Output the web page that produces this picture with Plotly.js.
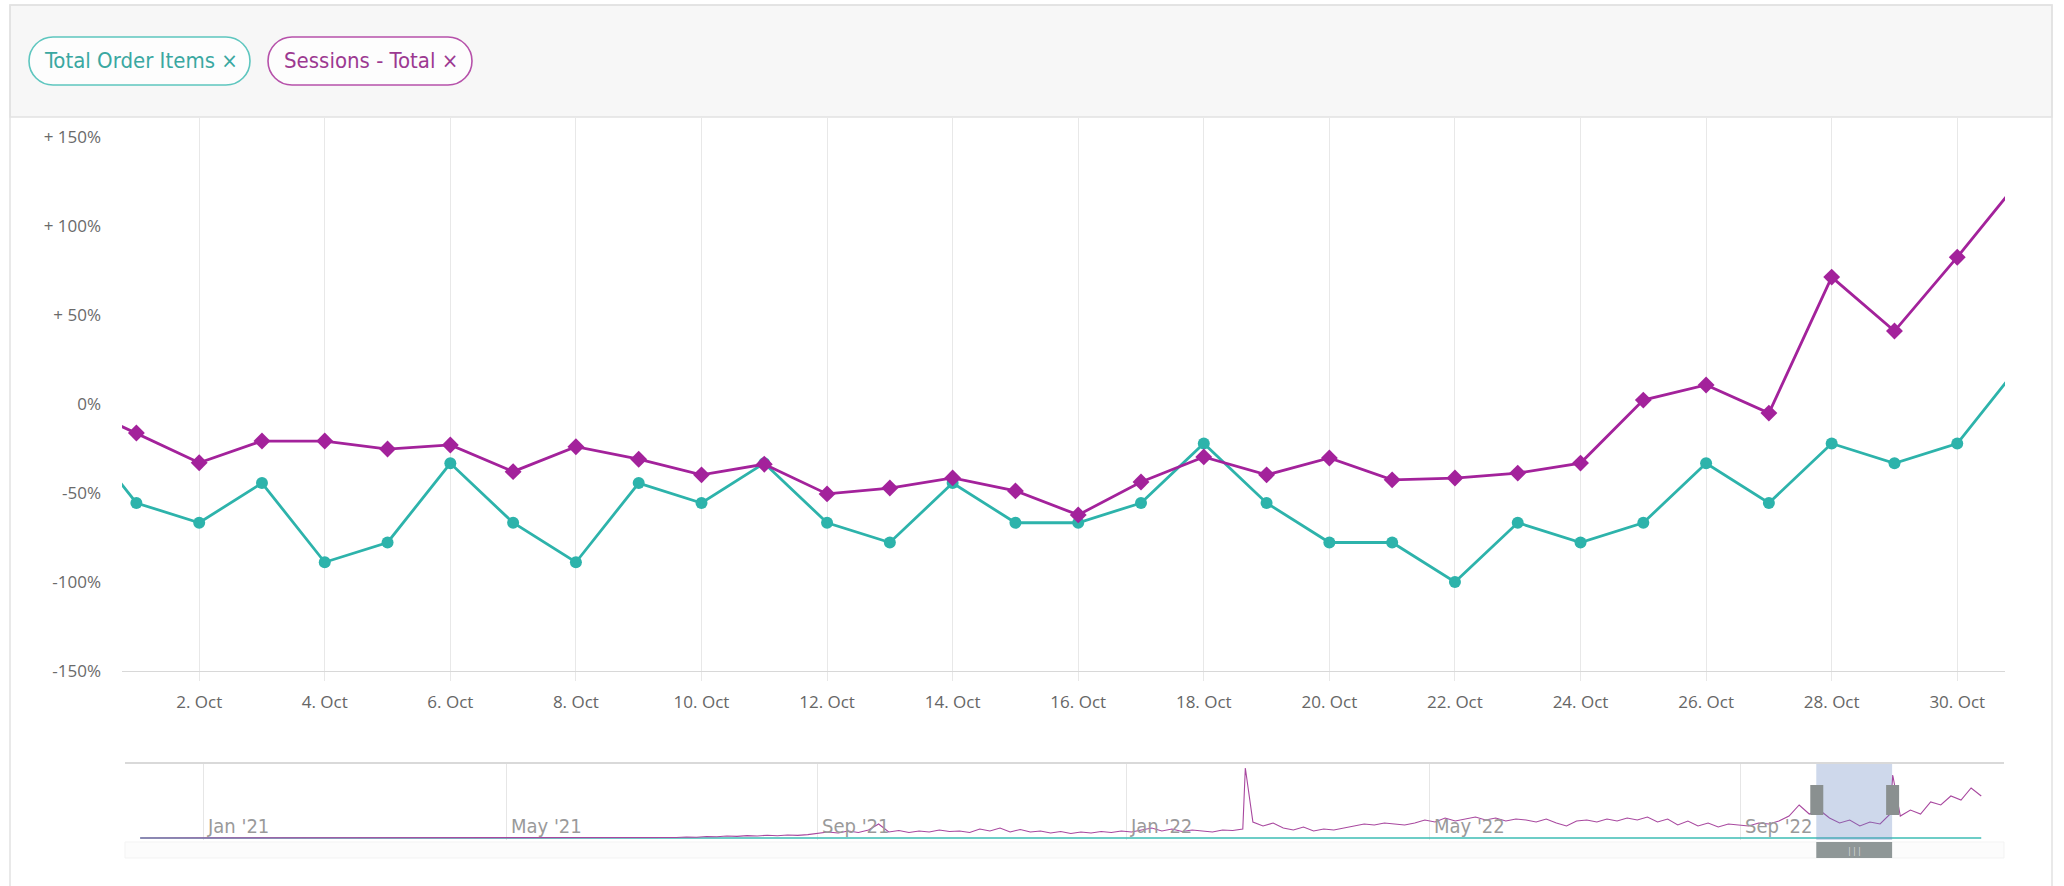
<!DOCTYPE html>
<html>
<head>
<meta charset="utf-8">
<script src="https://cdn.plot.ly/plotly-3.0.1.min.js"></script>
<style>
  html, body { margin: 0; padding: 0; background: #ffffff; overflow: hidden; }
  #chart { width: 2064px; height: 886px; }
</style>
</head>
<body>
<div id="chart"></div>
<script>
// ---------------- data ----------------
const dates = ['2022-09-30','2022-10-01','2022-10-02','2022-10-03','2022-10-04','2022-10-05','2022-10-06','2022-10-07',
  '2022-10-08','2022-10-09','2022-10-10','2022-10-11','2022-10-12','2022-10-13','2022-10-14','2022-10-15',
  '2022-10-16','2022-10-17','2022-10-18','2022-10-19','2022-10-20','2022-10-21','2022-10-22','2022-10-23',
  '2022-10-24','2022-10-25','2022-10-26','2022-10-27','2022-10-28','2022-10-29','2022-10-30','2022-10-31'];

const totalOrderItems = [-11.1, -55.6, -66.7, -44.4, -88.9, -77.8, -33.3, -66.7,
  -88.9, -44.4, -55.6, -33.3, -66.7, -77.8, -44.4, -66.7,
  -66.7, -55.6, -22.2, -55.6, -77.8, -77.8, -100, -66.7,
  -77.8, -66.7, -33.3, -55.6, -22.2, -33.3, -22.2, 22.2];

const sessionsTotal = [0, -16.3, -33, -20.8, -20.8, -25.3, -23, -38,
  -24, -31, -39.8, -33.8, -50.5, -47.2, -41.5, -48.8,
  -62.3, -43.8, -29.7, -39.8, -30.3, -42.6, -41.6, -38.8,
  -33.2, 2.2, 10.7, -5.1, 71.3, 41, 82.5, 126];

const seriesNames = ['Total Order Items', 'Sessions - Total'];

const yTickVals = [150, 100, 50, 0, -50, -100, -150];
const yTickText = ['+ 150%', '+ 100%', '+ 50%', '0%', '-50%', '-100%', '-150%'];

// navigator (overview) series: one value every 4 days from 2020-12-07
const navStart = '2020-12-07';
const navStepDays = 4;
const navSessions = [
  0,0,0,0,0,0,0,0,0,0,
  0,0,0,0,0,0,0,0,0,0,
  0,0,0,0,0,0,0,0,0,0,
  0,0,0,0,0,0,0,0,0,0,
  0,0,0,0,0,0,0,0,0,0,
  0,0,0,
  0.5,1,0.8,1.5,1.2,2,1.6,2.4,2,2.8,2.2,3,2.6,3.4,
  4.5,6,5,7,5.5,8,14,6,7.5,5.5,7,6,8,6.5,7,5.5,9,7,10,6,8.5,6,7,5,6.5,4.5,6,5,6.5,5.5,7,
  6,8,10,7,9,6.5,8,7,6,8,7.5,9,
  16,
  12,15,10,8,11,7,9,8,10,12,14,13,15,14,13,
  15,18,16,20,17,19,21,18,20,17,19,18,16,19,15,12,17,18,16,19,17,20,18,21,16,19,13,17,
  12,15,11,14,13,12,15,14,17,22,
  33,24,28,20,
  15,18,12,16,14,24,
  22,28,24,36,33,42,38,50,42
];
const navSpikeDates = ['2022-02-17', '2022-10-31'];
const navSpikeValues = [70, 63];
const navOrderDates = ['2020-12-07', '2022-12-05'];
const navOrderValues = [0, 0];

const navTickDates = ['2021-01-01', '2021-05-01', '2021-09-01', '2022-01-01', '2022-05-01', '2022-09-01'];
const navTickLabels = ["Jan '21", "May '21", "Sep '21", "Jan '22", "May '22", "Sep '22"];

// ---------------- build ----------------
const W = 2064, H = 886;
const X = p => p / W;
const Y = p => 1 - p / H;

const TEAL = '#2db3ab';
const PURPLE = '#a3229b';

const mainRange = ['2022-09-30 18:30', '2022-10-30 18:15'];

// navigator series (regular grid + spikes, sorted by date)
const startMs = Date.UTC(2020, 11, 7);
let navPts = navSessions.map((v, i) => [startMs + i * navStepDays * 86400000, v]);
navSpikeDates.forEach((d, i) => {
  const p = d.split('-').map(Number);
  navPts.push([Date.UTC(p[0], p[1] - 1, p[2]), navSpikeValues[i]]);
});
navPts.sort((a, b) => a[0] - b[0]);
const navX = navPts.map(p => new Date(p[0]).toISOString().slice(0, 10));
const navY = navPts.map(p => p[1]);

const traces = [
  { x: dates, y: totalOrderItems, name: seriesNames[0], type: 'scatter', mode: 'lines+markers',
    line: { color: TEAL, width: 2.8 }, marker: { symbol: 'circle', size: 12, color: TEAL },
    xaxis: 'x', yaxis: 'y' },
  { x: dates, y: sessionsTotal, name: seriesNames[1], type: 'scatter', mode: 'lines+markers',
    line: { color: PURPLE, width: 2.8 }, marker: { symbol: 'diamond', size: 13, color: PURPLE },
    xaxis: 'x', yaxis: 'y' },
  { x: navOrderDates, y: navOrderValues, type: 'scatter', mode: 'lines',
    line: { color: '#3cbcb4', width: 1.6 }, xaxis: 'x2', yaxis: 'y2' },
  { x: navX, y: navY, type: 'scatter', mode: 'lines',
    line: { color: '#a8489f', width: 1.1 }, xaxis: 'x2', yaxis: 'y2' }
];

function pill(x1, y1, x2, y2, color) {
  const r = (y2 - y1) / 2, k = 0.5523 * r, cy = y1 + r;
  const P = (x, y) => X(x).toFixed(6) + ',' + Y(y).toFixed(6);
  return {
    type: 'path', xref: 'paper', yref: 'paper', layer: 'above',
    path: `M${P(x1 + r, y1)} L${P(x2 - r, y1)} C${P(x2 - r + k, y1)} ${P(x2, cy - k)} ${P(x2, cy)} ` +
          `C${P(x2, cy + k)} ${P(x2 - r + k, y2)} ${P(x2 - r, y2)} L${P(x1 + r, y2)} ` +
          `C${P(x1 + r - k, y2)} ${P(x1, cy + k)} ${P(x1, cy)} C${P(x1, cy - k)} ${P(x1 + r - k, y1)} ${P(x1 + r, y1)} Z`,
    fillcolor: '#fdfdfd', line: { color: color, width: 1.6 }
  };
}

const shapes = [
  // card + header band
  { type: 'rect', xref: 'paper', yref: 'paper', layer: 'below', x0: X(10), x1: X(2052), y0: Y(5), y1: Y(117),
    fillcolor: '#f7f7f7', line: { color: '#e2e2e2', width: 1.5 } },
  { type: 'rect', xref: 'paper', yref: 'paper', layer: 'below', x0: X(10), x1: X(2052), y0: Y(5), y1: Y(890),
    fillcolor: 'rgba(0,0,0,0)', line: { color: '#e2e2e2', width: 1.5 } },
  pill(29, 37, 250, 85, '#5ec6bf'),
  pill(268, 37, 472, 85, '#b651aa'),
  // navigator outline
  { type: 'line', xref: 'paper', yref: 'paper', x0: X(125), x1: X(2004), y0: Y(763), y1: Y(763),
    line: { color: '#d9d9d9', width: 2 } },
  // scrollbar track
  { type: 'rect', xref: 'paper', yref: 'paper', x0: X(125), x1: X(2004), y0: Y(842), y1: Y(858),
    fillcolor: '#fcfcfc', line: { color: '#f3f3f3', width: 1 } },
  // selected zone
  { type: 'rect', xref: 'x2', yref: 'paper', x0: mainRange[0], x1: mainRange[1], y0: Y(840), y1: Y(764),
    fillcolor: 'rgba(102,133,194,0.32)', line: { width: 0 } },
  // scrollbar thumb
  { type: 'rect', xref: 'x2', yref: 'paper', x0: mainRange[0], x1: mainRange[1], y0: Y(842), y1: Y(858),
    fillcolor: '#8f9797', line: { width: 0 } },
  // handles
  { type: 'rect', xref: 'x2', xsizemode: 'pixel', xanchor: mainRange[0], x0: -6, x1: 7, yref: 'paper',
    y0: Y(815), y1: Y(785), fillcolor: '#8a9090', line: { width: 0 } },
  { type: 'rect', xref: 'x2', xsizemode: 'pixel', xanchor: mainRange[1], x0: -6, x1: 7, yref: 'paper',
    y0: Y(815), y1: Y(785), fillcolor: '#8a9090', line: { width: 0 } }
];

const pillFont = 'Liberation Sans Narrow, DejaVu Sans Condensed, Roboto, Open Sans, sans-serif';
const annotations = [
  { xref: 'paper', yref: 'paper', x: X(141), y: Y(61), xanchor: 'center', yanchor: 'middle', showarrow: false,
    text: seriesNames[0] + ' \u00d7', font: { family: pillFont, size: 22, weight: 300, color: '#3aa8a1' } },
  { xref: 'paper', yref: 'paper', x: X(371), y: Y(61), xanchor: 'center', yanchor: 'middle', showarrow: false,
    text: seriesNames[1] + ' \u00d7', font: { family: pillFont, size: 22, weight: 300, color: '#9c3991' } },
  { xref: 'x2', yref: 'paper', x: '2022-10-15 18:20', y: Y(850), xanchor: 'center', yanchor: 'middle', showarrow: false,
    text: '|||', font: { family: 'Open Sans, sans-serif', size: 9, color: '#d8dcdc' } }
];
navTickDates.forEach((d, i) => {
  annotations.push({ xref: 'x2', yref: 'paper', x: d, y: Y(826), xanchor: 'left', yanchor: 'middle', xshift: 2,
    showarrow: false, text: navTickLabels[i], font: { family: pillFont, size: 20, color: '#9a9a9a' } });
});

const layout = {
  width: W, height: H,
  margin: { l: 0, r: 0, t: 0, b: 0 },
  paper_bgcolor: '#ffffff', plot_bgcolor: 'rgba(0,0,0,0)',
  showlegend: false, hovermode: false,
  font: { family: 'Open Sans, sans-serif', color: '#666666' },
  xaxis: {
    type: 'date', domain: [X(122), X(2005)], range: mainRange, anchor: 'y',
    tick0: '2022-10-02', dtick: 2 * 86400000, tickformat: '%-d. %b',
    showgrid: true, gridcolor: '#e8e8e8', gridwidth: 1,
    ticks: 'outside', ticklen: 9, tickcolor: '#e8e8e8',
    showline: true, linecolor: '#d8d8d8', linewidth: 1, zeroline: false,
    tickfont: { size: 17, color: '#666666' }, ticklabelstandoff: 7
  },
  yaxis: {
    domain: [Y(671), Y(118)], range: [-150, 160.7], anchor: 'x',
    tickmode: 'array', tickvals: yTickVals, ticktext: yTickText,
    showgrid: false, zeroline: false, showline: false, ticks: '',
    tickfont: { size: 17, color: '#6a6a6a' }, ticklabelstandoff: 20
  },
  xaxis2: {
    type: 'date', domain: [X(125), X(2004)], range: ['2020-12-01', '2022-12-14'], anchor: 'y2',
    tickmode: 'array', tickvals: navTickDates, showticklabels: false,
    showgrid: true, gridcolor: '#e6e6e6', ticks: '', zeroline: false, showline: false
  },
  yaxis2: {
    domain: [Y(840), Y(763)], range: [-2, 75], anchor: 'x2', visible: false,
    showgrid: false, zeroline: false
  },
  shapes: shapes,
  annotations: annotations
};

Plotly.newPlot('chart', traces, layout, { displayModeBar: false, staticPlot: true });
</script>
</body>
</html>
